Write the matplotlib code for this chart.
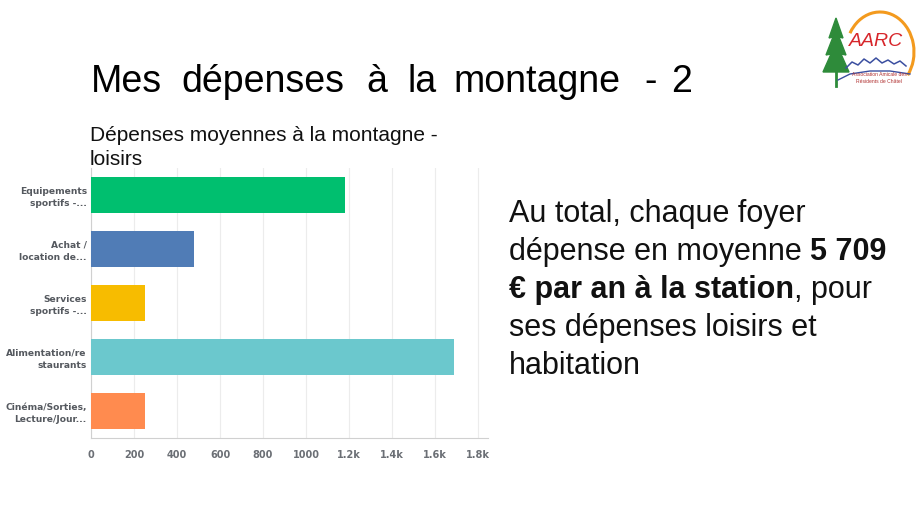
import numpy as np
import matplotlib
matplotlib.use("Agg")
import matplotlib.pyplot as plt
from matplotlib.patches import Arc, Polygon

categories = ["Equipements\nsportifs -...", "Achat /\nlocation de...", "Services\nsportifs -...",
              "Alimentation/re\nstaurants", "Cinéma/Sorties,\nLecture/Jour..."]
values = [1180, 478, 251, 1687, 251]
colors = ["#00BF6F", "#507CB6", "#F7BC00", "#6BC8CD", "#FF8B4F"]
xticks = [0, 200, 400, 600, 800, 1000, 1200, 1400, 1600, 1800]
xticklabels = ["0", "200", "400", "600", "800", "1000", "1.2k", "1.4k", "1.6k", "1.8k"]

title_words = ["Mes", "dépenses", "à", "la", "montagne", "-", "2"]
title_x = [91, 181, 366, 408, 453, 644, 671]

W, H = 924, 520
plt.rcParams['font.family'] = ['Liberation Sans', 'DejaVu Sans']

fig = plt.figure(figsize=(W / 100, H / 100), dpi=100)
fig.patch.set_facecolor("white")

# title, word by word (wide justified spacing)
for w, x in zip(title_words, title_x):
    fig.text(x / W, 1 - 92 / H, w, fontsize=27, va="baseline", ha="left", color="black")

# chart subtitle
fig.text(90 / W, 1 - 141 / H, "Dépenses moyennes à la montagne -", fontsize=15,
         va="baseline", ha="left", color="#111111")
fig.text(90 / W, 1 - 165 / H, "loisirs", fontsize=15, va="baseline", ha="left", color="#111111")

# bar chart
ax = fig.add_axes([91 / W, 1 - 438 / H, 397 / W, 270 / H])
y = np.arange(len(categories))
ax.barh(y, values, height=0.65, color=colors, zorder=3)
ax.set_ylim(4.5, -0.5)
ax.set_xlim(0, 1846)
ax.set_xticks(xticks)
ax.set_xticklabels(xticklabels, fontfamily="DejaVu Sans", fontweight="bold",
                   fontsize=7, color="#6b6f75")
ax.set_yticks(y)
ax.set_yticklabels(categories, fontfamily="DejaVu Sans", fontweight="bold",
                   fontsize=6.6, color="#55595f", linespacing=1.4)
ax.tick_params(axis="x", length=0, pad=9)
ax.tick_params(axis="y", length=0, pad=3)
ax.grid(axis="x", color="#ececec", linewidth=0.8, zorder=0)
for s in ["top", "right"]:
    ax.spines[s].set_visible(False)
ax.spines["left"].set_color("#d0d0d0")
ax.spines["bottom"].set_color("#d0d0d0")

# right-hand text, mixed weights chained along each line
fs = 22
lines = [
    [("Au total, chaque foyer", "normal")],
    [("dépense en moyenne ", "normal"), ("5 709", "bold")],
    [("€ par an à la station", "bold"), (", pour", "normal")],
    [("ses dépenses loisirs et", "normal")],
    [("habitation", "normal")],
]
chained = []
for i, parts in enumerate(lines):
    base = 222 + i * 38
    prev = None
    for txt, w in parts:
        t = fig.text(509 / W, 1 - base / H, txt, fontsize=fs, fontweight=w,
                     va="baseline", ha="left", color="#111111")
        if prev is not None:
            chained.append((prev, t))
        prev = t

fig.canvas.draw()
r = fig.canvas.get_renderer()
for prev, t in chained:
    bb = prev.get_window_extent(r)
    t.set_x(bb.x1 / W)

# logo, drawn in pixel coordinates
lax = fig.add_axes([0, 0, 1, 1], facecolor="none")
lax.set_xlim(0, W)
lax.set_ylim(H, 0)
lax.axis("off")
lax.add_patch(Arc((880, 52), 68, 80, theta1=212, theta2=400, color="#F39A1E", lw=2.2))
lax.add_patch(Polygon([[836, 18], [829, 38], [833, 37], [826, 55], [831, 54], [823, 72],
                       [849, 72], [841, 54], [846, 55], [839, 37], [843, 38]],
                      closed=True, color="#2E8B3A"))
lax.plot([836, 836], [72, 86], color="#2E8B3A", lw=2)
lax.plot([846, 852, 858, 864, 870, 876, 882, 888, 894, 900, 906],
         [68, 62, 65, 59, 63, 58, 63, 60, 64, 61, 66], color="#3B4FA0", lw=1.1)
lax.plot([838, 850, 870, 890, 910], [80, 74, 71, 71, 74], color="#3B4FA0", lw=1.0)
lax.text(876, 42, "AARC", fontsize=14, fontstyle="italic", color="#D7262B",
         ha="center", va="center")
lax.text(879, 78, "Association Amicale des\nRésidents de Châtel", fontsize=3.6,
         color="#B03030", ha="center", va="center", linespacing=1.3)

fig.savefig("out.png", dpi=100)
